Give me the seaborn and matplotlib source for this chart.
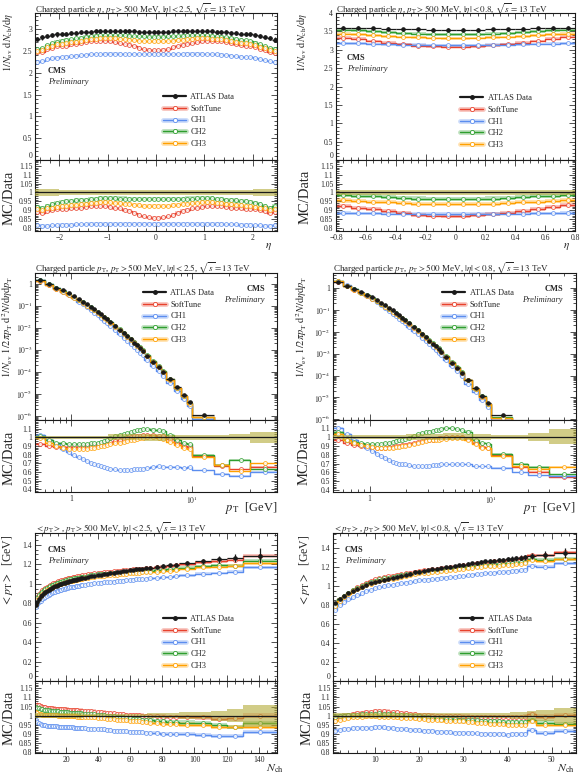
import numpy as np
import matplotlib
matplotlib.use("Agg")
import matplotlib.pyplot as plt
import seaborn as sns
from matplotlib.lines import Line2D
from matplotlib.ticker import FixedLocator, MultipleLocator, FuncFormatter, NullFormatter, LogLocator

sns.set_theme(style="ticks")
plt.rcParams['font.family'] = ['Liberation Serif', 'DejaVu Serif']
plt.rcParams['mathtext.fontset'] = 'stix'

W, H = 580, 776

tunes = ["SoftTune", "CH1", "CH2", "CH3"]
colors = {"SoftTune": "#e8412c", "CH1": "#5b8def", "CH2": "#2e9e2e", "CH3": "#ffa000"}
legend_labels = ["ATLAS Data", "SoftTune", "CH1", "CH2", "CH3"]

# ---------------- eta, |eta| < 2.5 ----------------
eta25_edges = np.linspace(-2.5, 2.5, 51)
eta25_data = [2.77, 2.81, 2.84, 2.86, 2.88, 2.89, 2.9, 2.91, 2.92, 2.93,
              2.94, 2.945, 2.95, 2.955, 2.96, 2.96, 2.96, 2.96, 2.955, 2.955,
              2.95, 2.945, 2.945, 2.94, 2.94,
              2.94, 2.94, 2.945, 2.95, 2.95, 2.955, 2.96, 2.96, 2.96, 2.96,
              2.955, 2.95, 2.945, 2.94, 2.93, 2.92, 2.91, 2.9, 2.89, 2.88,
              2.86, 2.84, 2.82, 2.8, 2.76]
eta25_soft = [0.89, 0.885, 0.895, 0.9, 0.905, 0.905, 0.905, 0.91, 0.91, 0.915,
              0.92, 0.925, 0.925, 0.925, 0.925, 0.92, 0.915, 0.91, 0.9, 0.895,
              0.885, 0.875, 0.865, 0.86, 0.855,
              0.855, 0.86, 0.865, 0.875, 0.885, 0.895, 0.9, 0.91, 0.915, 0.92,
              0.925, 0.925, 0.925, 0.925, 0.92, 0.915, 0.91, 0.91, 0.905, 0.905,
              0.905, 0.9, 0.895, 0.885, 0.89]
eta25_ch1 = [0.815, 0.81, 0.812, 0.815, 0.815, 0.817, 0.818, 0.818, 0.82, 0.82,
             0.82, 0.822, 0.822, 0.822, 0.823, 0.823, 0.823, 0.824, 0.824, 0.824,
             0.825, 0.825, 0.825, 0.825, 0.825,
             0.825, 0.825, 0.825, 0.825, 0.825, 0.824, 0.824, 0.824, 0.823, 0.823,
             0.823, 0.822, 0.822, 0.822, 0.82, 0.82, 0.82, 0.818, 0.818, 0.817,
             0.815, 0.815, 0.812, 0.81, 0.815]
eta25_ch2 = [0.92, 0.915, 0.925, 0.935, 0.94, 0.945, 0.95, 0.952, 0.955, 0.958,
             0.96, 0.962, 0.965, 0.967, 0.968, 0.968, 0.968, 0.966, 0.966, 0.965,
             0.963, 0.962, 0.962, 0.963, 0.963,
             0.963, 0.963, 0.962, 0.962, 0.963, 0.965, 0.966, 0.966, 0.968, 0.968,
             0.968, 0.967, 0.965, 0.962, 0.96, 0.958, 0.955, 0.952, 0.95, 0.945,
             0.94, 0.935, 0.925, 0.915, 0.925]
eta25_ch3 = [0.905, 0.9, 0.91, 0.915, 0.92, 0.922, 0.925, 0.928, 0.93, 0.933,
             0.936, 0.94, 0.942, 0.944, 0.945, 0.944, 0.942, 0.94, 0.936, 0.933,
             0.93, 0.928, 0.926, 0.925, 0.925,
             0.925, 0.925, 0.926, 0.928, 0.93, 0.933, 0.936, 0.94, 0.942, 0.944,
             0.945, 0.944, 0.942, 0.94, 0.936, 0.933, 0.93, 0.928, 0.925, 0.922,
             0.92, 0.915, 0.91, 0.9, 0.905]
eta25_err = [0.018] * 5 + [0.015] * 40 + [0.018] * 5

# ---------------- eta, |eta| < 0.8 ----------------
eta08_edges = np.linspace(-0.8, 0.8, 17)
eta08_data = [3.6, 3.6, 3.58, 3.57, 3.56, 3.56, 3.55, 3.55,
              3.55, 3.55, 3.56, 3.56, 3.57, 3.58, 3.59, 3.6]
eta08_soft = [0.925, 0.915, 0.905, 0.895, 0.885, 0.875, 0.87, 0.868,
              0.868, 0.872, 0.878, 0.885, 0.895, 0.905, 0.918, 0.93]
eta08_ch1 = [0.883, 0.882, 0.882, 0.881, 0.881, 0.88, 0.88, 0.88,
             0.88, 0.88, 0.88, 0.881, 0.881, 0.882, 0.882, 0.883]
eta08_ch2 = [0.985, 0.982, 0.978, 0.974, 0.97, 0.966, 0.965, 0.964,
             0.964, 0.965, 0.966, 0.97, 0.974, 0.978, 0.982, 0.985]
eta08_ch3 = [0.955, 0.952, 0.948, 0.944, 0.94, 0.937, 0.935, 0.934,
             0.934, 0.935, 0.937, 0.94, 0.944, 0.948, 0.952, 0.955]
eta08_err = [0.012] * 16

# ---------------- pT spectra ----------------
pt_edges = [0.5, 0.6, 0.7, 0.8, 0.9, 1.0, 1.1, 1.2, 1.3, 1.4, 1.5, 1.6, 1.7, 1.8, 1.9, 2.0,
            2.2, 2.4, 2.6, 2.8, 3.0, 3.2, 3.4, 3.6, 3.8, 4.0,
            4.5, 5.0, 5.5, 6.0, 7.0, 8.0, 9.0, 10.0, 15.0, 20.0, 30.0, 50.0]
pt25_data = [1.4, 0.95, 0.67, 0.49, 0.36, 0.27, 0.2, 0.152, 0.116, 0.089,
             0.069, 0.053, 0.041, 0.032, 0.025,
             0.018, 0.012, 0.0082, 0.0057, 0.004, 0.0029, 0.0021, 0.00155, 0.00115, 0.00086,
             5.2e-4, 2.8e-4, 1.6e-4, 9.5e-5, 4.5e-5, 1.9e-5, 8.5e-6, 4e-6,
             1.1e-6, 2e-7, 5e-8, 8e-9]
pt25_soft = [0.92, 0.9, 0.89, 0.89, 0.89, 0.89, 0.89, 0.89, 0.9, 0.9,
             0.91, 0.91, 0.92, 0.93, 0.94,
             0.95, 0.96, 0.97, 0.98, 0.99, 1.0, 1.01, 1.02, 1.02, 1.03,
             1.03, 1.03, 1.02, 1.01, 0.98, 0.94, 0.9, 0.89,
             0.78, 0.67, 0.63, 0.66]
pt25_ch1 = [1.03, 0.97, 0.92, 0.87, 0.83, 0.8, 0.77, 0.75, 0.73, 0.71,
            0.69, 0.68, 0.67, 0.66, 0.65,
            0.64, 0.63, 0.62, 0.62, 0.62, 0.62, 0.63, 0.63, 0.64, 0.64,
            0.65, 0.66, 0.67, 0.66, 0.66, 0.66, 0.65, 0.66,
            0.62, 0.58, 0.56, 0.6]
pt25_ch2 = [1.02, 0.97, 0.94, 0.93, 0.92, 0.92, 0.92, 0.92, 0.92, 0.93,
            0.93, 0.94, 0.95, 0.96, 0.97,
            0.99, 1.01, 1.03, 1.04, 1.05, 1.06, 1.07, 1.08, 1.09, 1.1,
            1.1, 1.09, 1.08, 1.07, 1.03, 0.97, 0.93, 0.92,
            0.8, 0.68, 0.74, 0.63]
pt25_ch3 = [0.99, 0.93, 0.9, 0.88, 0.87, 0.87, 0.87, 0.87, 0.87, 0.88,
            0.88, 0.89, 0.9, 0.9, 0.91,
            0.92, 0.93, 0.94, 0.95, 0.96, 0.97, 0.97, 0.98, 0.99, 0.99,
            1.0, 1.0, 0.99, 0.98, 0.95, 0.91, 0.88, 0.87,
            0.77, 0.68, 0.61, 0.7]
pt25_err = [0.02] * 15 + [0.035] * 10 + [0.04] * 4 + [0.03] * 4 + [0.025, 0.03, 0.035, 0.065]

pt08_data = [1.95, 1.3, 0.92, 0.67, 0.5, 0.37, 0.28, 0.21, 0.16, 0.123,
             0.095, 0.074, 0.057, 0.045, 0.035,
             0.025, 0.0168, 0.0115, 0.008, 0.0056, 0.004, 0.0029, 0.00215, 0.0016, 0.0012,
             7.3e-4, 3.9e-4, 2.2e-4, 1.3e-4, 6.2e-5, 2.6e-5, 1.2e-5, 5.6e-6,
             1.5e-6, 2.8e-7, 7e-8, 1.1e-8]
pt08_soft = [0.96, 0.93, 0.91, 0.9, 0.89, 0.89, 0.88, 0.88, 0.88, 0.89,
             0.89, 0.9, 0.9, 0.91, 0.91,
             0.92, 0.93, 0.94, 0.95, 0.96, 0.97, 0.97, 0.98, 0.99, 0.99,
             1.0, 1.0, 1.0, 1.0, 0.98, 0.93, 0.89, 0.88,
             0.8, 0.66, 0.61, 0.55]
pt08_ch1 = [1.1, 1.03, 0.96, 0.91, 0.87, 0.84, 0.81, 0.78, 0.76, 0.74,
            0.72, 0.71, 0.7, 0.69, 0.69,
            0.68, 0.67, 0.67, 0.67, 0.67, 0.67, 0.68, 0.68, 0.68, 0.69,
            0.69, 0.69, 0.7, 0.7, 0.69, 0.67, 0.67, 0.67,
            0.65, 0.6, 0.57, 0.56]
pt08_ch2 = [1.05, 0.97, 0.94, 0.93, 0.92, 0.92, 0.92, 0.92, 0.93, 0.93,
            0.94, 0.95, 0.96, 0.97, 0.98,
            0.99, 1.01, 1.03, 1.04, 1.05, 1.06, 1.07, 1.08, 1.08, 1.09,
            1.1, 1.1, 1.09, 1.08, 1.06, 0.97, 0.93, 0.92,
            0.81, 0.7, 0.66, 0.58]
pt08_ch3 = [1.03, 0.97, 0.93, 0.91, 0.9, 0.89, 0.88, 0.88, 0.88, 0.88,
            0.88, 0.89, 0.89, 0.9, 0.9,
            0.91, 0.92, 0.93, 0.94, 0.95, 0.96, 0.96, 0.97, 0.97, 0.98,
            0.98, 0.99, 0.99, 0.99, 0.97, 0.92, 0.88, 0.87,
            0.79, 0.67, 0.64, 0.66]
pt08_err = [0.02] * 15 + [0.035] * 10 + [0.04] * 4 + [0.03] * 4 + [0.02, 0.025, 0.045, 0.085]

# ---------------- <pT> vs Nch, |eta| < 2.5 ----------------
nch25_edges = np.concatenate([np.arange(0.5, 31.0, 1.0), np.arange(32.5, 71.0, 2.0),
                              [74.5, 78.5, 82.5, 86.5, 90.5, 100.5, 110.5, 120.5, 130.5, 151.5]])
nch25_data = [0.78, 0.815, 0.845, 0.868, 0.887, 0.902, 0.915, 0.927, 0.938, 0.948,
              0.957, 0.965, 0.973, 0.98, 0.987, 0.993, 0.999, 1.005, 1.011, 1.016,
              1.021, 1.026, 1.03, 1.034, 1.038, 1.042, 1.046, 1.05, 1.053, 1.057,
              1.061, 1.068, 1.075, 1.082, 1.088, 1.093, 1.098, 1.103, 1.108, 1.113,
              1.118, 1.123, 1.128, 1.133, 1.138, 1.142, 1.146, 1.15, 1.154, 1.158,
              1.164, 1.172, 1.18, 1.188, 1.196,
              1.21, 1.23, 1.25, 1.265, 1.285]
nch25_soft = [1.055, 1.06, 1.058, 1.055, 1.05, 1.047, 1.045, 1.043, 1.042, 1.041,
              1.04, 1.039, 1.038, 1.037, 1.036, 1.036, 1.035, 1.034, 1.034, 1.033,
              1.033, 1.032, 1.031, 1.031, 1.03, 1.029, 1.029, 1.028, 1.027, 1.027,
              1.026, 1.025, 1.024, 1.022, 1.02, 1.019, 1.017, 1.015, 1.013, 1.012,
              1.01, 1.008, 1.007, 1.005, 1.004, 1.003, 1.002, 1.001, 1.0, 0.999,
              0.998, 0.997, 0.995, 0.994, 0.993,
              0.991, 0.99, 0.982, 0.985, 1.0]
nch25_ch1 = [0.975, 0.965, 0.957, 0.952, 0.949, 0.947, 0.946, 0.945, 0.944, 0.943,
             0.942, 0.942, 0.941, 0.941, 0.94, 0.94, 0.939, 0.939, 0.938, 0.938,
             0.937, 0.936, 0.936, 0.935, 0.934, 0.934, 0.933, 0.932, 0.932, 0.931,
             0.93, 0.929, 0.928, 0.927, 0.926, 0.925, 0.924, 0.922, 0.92, 0.918,
             0.917, 0.915, 0.914, 0.913, 0.912, 0.911, 0.91, 0.909, 0.908, 0.907,
             0.905, 0.903, 0.901, 0.9, 0.899,
             0.897, 0.896, 0.887, 0.887, 0.91]
nch25_ch2 = [1.045, 1.042, 1.04, 1.037, 1.035, 1.033, 1.031, 1.03, 1.029, 1.028,
             1.027, 1.026, 1.025, 1.024, 1.023, 1.022, 1.021, 1.02, 1.02, 1.019,
             1.018, 1.017, 1.016, 1.016, 1.015, 1.014, 1.013, 1.012, 1.012, 1.011,
             1.01, 1.009, 1.008, 1.007, 1.006, 1.004, 1.002, 1.0, 0.998, 0.996,
             0.994, 0.992, 0.99, 0.988, 0.986, 0.984, 0.982, 0.98, 0.978, 0.976,
             0.974, 0.971, 0.968, 0.966, 0.964,
             0.962, 0.959, 0.95, 0.936, 0.96]
nch25_ch3 = [1.02, 1.015, 1.01, 1.007, 1.005, 1.004, 1.003, 1.003, 1.002, 1.002,
             1.002, 1.001, 1.001, 1.001, 1.0, 1.0, 1.0, 1.0, 0.999, 0.999,
             0.998, 0.998, 0.997, 0.997, 0.996, 0.996, 0.995, 0.995, 0.994, 0.994,
             0.993, 0.992, 0.991, 0.99, 0.989, 0.988, 0.986, 0.984, 0.982, 0.98,
             0.978, 0.977, 0.975, 0.974, 0.972, 0.971, 0.97, 0.968, 0.966, 0.964,
             0.962, 0.959, 0.956, 0.954, 0.953,
             0.951, 0.95, 0.94, 0.936, 0.94]
nch25_err = [0.012] * 30 + [0.01] * 20 + [0.015] * 5 + [0.018, 0.02, 0.028, 0.035, 0.06]

# ---------------- <pT> vs Nch, |eta| < 0.8 ----------------
nch08_edges = np.concatenate([np.arange(0.5, 45.0, 1.0), [46.5, 50.5, 55.5]])
nch08_data = [0.82, 0.865, 0.9, 0.928, 0.952, 0.974, 0.994, 1.012, 1.03, 1.046,
              1.058, 1.069, 1.08, 1.09, 1.1, 1.111, 1.122, 1.133, 1.144, 1.154,
              1.162, 1.169, 1.176, 1.183, 1.19, 1.197, 1.204, 1.211, 1.218, 1.225,
              1.232, 1.239, 1.246, 1.253, 1.26, 1.265, 1.27, 1.275, 1.28, 1.285,
              1.29, 1.295, 1.3, 1.305, 1.315, 1.33, 1.35]
nch08_soft = [0.99, 0.995, 1.0, 1.004, 1.008, 1.012, 1.015, 1.018, 1.021, 1.024,
              1.025, 1.024, 1.022, 1.02, 1.018, 1.015, 1.012, 1.009, 1.007, 1.005,
              1.003, 1.001, 1.0, 0.999, 0.998, 0.997, 0.997, 0.996, 0.996, 0.995,
              0.995, 0.994, 0.994, 0.993, 0.993, 0.992, 0.992, 0.992, 0.991, 0.992,
              0.992, 0.993, 0.994, 0.995, 1.007, 0.995, 1.004]
nch08_ch1 = [0.918, 0.922, 0.925, 0.928, 0.93, 0.931, 0.932, 0.933, 0.934, 0.935,
             0.936, 0.935, 0.933, 0.931, 0.929, 0.927, 0.925, 0.923, 0.921, 0.919,
             0.917, 0.915, 0.914, 0.912, 0.911, 0.91, 0.909, 0.907, 0.906, 0.905,
             0.904, 0.903, 0.902, 0.901, 0.9, 0.899, 0.898, 0.897, 0.897, 0.896,
             0.897, 0.898, 0.899, 0.9, 0.923, 0.905, 0.918]
nch08_ch2 = [0.995, 0.998, 1.0, 1.002, 1.004, 1.006, 1.007, 1.009, 1.01, 1.011,
             1.012, 1.011, 1.01, 1.008, 1.006, 1.004, 1.002, 1.0, 0.998, 0.996,
             0.993, 0.99, 0.988, 0.986, 0.984, 0.983, 0.981, 0.98, 0.978, 0.977,
             0.976, 0.975, 0.974, 0.972, 0.971, 0.97, 0.969, 0.968, 0.967, 0.966,
             0.966, 0.965, 0.964, 0.964, 0.977, 0.962, 0.954]
nch08_ch3 = [0.97, 0.978, 0.984, 0.988, 0.991, 0.993, 0.995, 0.996, 0.996, 0.996,
             0.995, 0.994, 0.993, 0.991, 0.99, 0.989, 0.988, 0.986, 0.985, 0.983,
             0.981, 0.978, 0.976, 0.975, 0.974, 0.973, 0.971, 0.97, 0.969, 0.968,
             0.966, 0.964, 0.962, 0.96, 0.958, 0.956, 0.954, 0.953, 0.952, 0.951,
             0.951, 0.95, 0.95, 0.95, 0.968, 0.95, 0.95]
nch08_err = [0.012] * 30 + [0.015] * 10 + [0.02] * 4 + [0.025, 0.03, 0.04]

fmt = FuncFormatter(lambda v, p: f"{v:g}".replace("-", "\u2212"))


def rect(l, r, t, b):
    return [l / W, 1 - b / H, (r - l) / W, (b - t) / H]


def ftxt(x, y, s, **kw):
    fig.text(x / W, 1 - y / H, s, **kw)


def style(ax):
    ax.tick_params(which='both', direction='in', top=True, right=True,
                   labelsize=5.5, pad=2, width=0.6, color='0.2')
    ax.tick_params(which='major', length=4.5)
    ax.tick_params(which='minor', length=2.2)
    for s in ax.spines.values():
        s.set_linewidth(0.8)
        s.set_color('0.1')


def draw_panel(box, edges, data, ratios, err, legend_xy, logx=False, logy=False):
    l, r, t, m, b = box
    ax = fig.add_axes(rect(l, r, t, m))
    rx = fig.add_axes(rect(l, r, m, b), sharex=ax)
    if logx:
        ax.set_xscale('log')
    if logy:
        ax.set_yscale('log')
    edges = np.asarray(edges, float)
    centers = 0.5 * (edges[:-1] + edges[1:])
    half = 0.5 * np.diff(edges)
    data = np.asarray(data, float)
    err = np.asarray(err, float)
    for name, ratio in zip(tunes, ratios):
        ratio = np.asarray(ratio, float)
        c = colors[name]
        for a, vals in ((ax, data * ratio), (rx, ratio)):
            sy = np.append(vals, vals[-1])
            a.fill_between(edges, sy * 0.988, sy * 1.012, step='post', color=c,
                           alpha=0.3, lw=0, zorder=2)
            sns.lineplot(x=edges, y=sy, ax=a, color=c, lw=1.0, drawstyle='steps-post',
                         estimator=None, sort=False, zorder=2.2)
            sns.scatterplot(x=centers, y=vals, ax=a, color=c, facecolor='white',
                            edgecolor=c, s=8, linewidth=0.6, alpha=0.85, zorder=2.4)
    ax.errorbar(centers, data, xerr=half, yerr=data * err, fmt='o', ms=2.3, color='k',
                elinewidth=0.9, capsize=0, zorder=5)
    se = np.append(err, err[-1])
    rx.fill_between(edges, 1 - se, 1 + se, step='post', color='#b3ab38', alpha=0.6,
                    lw=0, zorder=3)
    rx.axhline(1, color='k', lw=0.9, zorder=4)
    rx.set_xlim(edges[0], edges[-1])
    for a in (ax, rx):
        style(a)
        a.set_xlabel("")
        a.set_ylabel("")
    ax.tick_params(labelbottom=False)

    handles = [Line2D([], [], color='k', marker='o', ms=2.5, lw=1.6)]
    for name in tunes:
        c = colors[name]
        handles.append((Line2D([], [], color=c, lw=3.5, alpha=0.3),
                        Line2D([], [], color=c, lw=1.0, marker='o', ms=3, mfc='white',
                               mec=c, mew=0.6)))
    ax.legend(handles, legend_labels, loc='upper left',
              bbox_to_anchor=(legend_xy[0] / W, 1 - legend_xy[1] / H),
              bbox_transform=fig.transFigure, frameon=False, fontsize=6,
              handlelength=2.8, handletextpad=0.5, labelspacing=0.45,
              borderpad=0, borderaxespad=0)
    return ax, rx


def lin_ticks(ax, rx, xmaj, xmin, ymaj, ymin, ylim, rlim, rticks, rmin):
    rx.xaxis.set_major_locator(MultipleLocator(xmaj))
    rx.xaxis.set_minor_locator(MultipleLocator(xmin))
    rx.xaxis.set_major_formatter(fmt)
    ax.set_ylim(*ylim)
    ax.yaxis.set_major_locator(MultipleLocator(ymaj))
    ax.yaxis.set_minor_locator(MultipleLocator(ymin))
    ax.yaxis.set_major_formatter(fmt)
    ratio_ticks(rx, rlim, rticks, rmin)


def ratio_ticks(rx, rlim, rticks, rmin):
    rx.set_ylim(*rlim)
    rx.yaxis.set_major_locator(FixedLocator(rticks))
    rx.yaxis.set_minor_locator(MultipleLocator(rmin))
    rx.yaxis.set_major_formatter(fmt)


def log_ticks(ax, rx, ylim):
    ax.set_ylim(*ylim)
    ax.yaxis.set_major_locator(FixedLocator([1e-6, 1e-5, 1e-4, 1e-3, 1e-2, 1e-1, 1]))
    ax.yaxis.set_major_formatter(FuncFormatter(
        lambda v, p: "1" if abs(v - 1) < 1e-9 else f"$10^{{{int(round(np.log10(v)))}}}$"))
    ax.yaxis.set_minor_locator(LogLocator(base=10, subs=np.arange(2, 10)))
    ax.yaxis.set_minor_formatter(NullFormatter())
    rx.xaxis.set_major_locator(FixedLocator([1, 10]))
    rx.xaxis.set_major_formatter(FuncFormatter(lambda v, p: "1" if v < 5 else "$10^1$"))
    rx.xaxis.set_minor_locator(LogLocator(base=10, subs=np.arange(2, 10)))
    rx.xaxis.set_minor_formatter(NullFormatter())


fig = plt.figure(figsize=(W / 100, H / 100), dpi=100)

fine_ticks = [0.8, 0.85, 0.9, 0.95, 1.0, 1.05, 1.1, 1.15]
wide_ticks = [0.4, 0.5, 0.6, 0.7, 0.8, 0.9, 1.0, 1.1]

# row 1: eta
ax1, rx1 = draw_panel((35, 277, 13, 160, 231), eta25_edges, eta25_data,
                      [eta25_soft, eta25_ch1, eta25_ch2, eta25_ch3], eta25_err, (163, 93))
lin_ticks(ax1, rx1, 1, 0.2, 0.5, 0.1, (0, 3.37), (0.783, 1.183), fine_ticks, 0.01)
ax2, rx2 = draw_panel((336, 575, 13, 160, 231), eta08_edges, eta08_data,
                      [eta08_soft, eta08_ch1, eta08_ch2, eta08_ch3], eta08_err, (460, 94))
lin_ticks(ax2, rx2, 0.2, 0.05, 0.5, 0.1, (0, 4.0), (0.783, 1.183), fine_ticks, 0.01)

# row 2: pT
ax3, rx3 = draw_panel((35, 277, 273, 420, 492), pt_edges, pt25_data,
                      [pt25_soft, pt25_ch1, pt25_ch2, pt25_ch3], pt25_err, (143, 289),
                      logx=True, logy=True)
log_ticks(ax3, rx3, (10 ** -6.2, 10 ** 0.486))
ratio_ticks(rx3, (0.37, 1.2), wide_ticks, 0.02)
ax4, rx4 = draw_panel((333, 576, 273, 420, 492), pt_edges, pt08_data,
                      [pt08_soft, pt08_ch1, pt08_ch2, pt08_ch3], pt08_err, (442, 289),
                      logx=True, logy=True)
log_ticks(ax4, rx4, (10 ** -6.03, 10 ** 0.687))
ratio_ticks(rx4, (0.38, 1.19), wide_ticks, 0.02)

# row 3: <pT> vs Nch
ax5, rx5 = draw_panel((35, 277, 533, 681, 753), nch25_edges, nch25_data,
                      [nch25_soft, nch25_ch1, nch25_ch2, nch25_ch3], nch25_err, (163, 615))
lin_ticks(ax5, rx5, 20, 5, 0.2, 0.05, (0, 1.52), (0.795, 1.19), fine_ticks, 0.01)
ax6, rx6 = draw_panel((333, 576, 533, 681, 753), nch08_edges, nch08_data,
                      [nch08_soft, nch08_ch1, nch08_ch2, nch08_ch3], nch08_err, (460, 615))
lin_ticks(ax6, rx6, 10, 2, 0.2, 0.05, (0, 1.56), (0.795, 1.19), fine_ticks, 0.01)

# titles
t_eta = r"Charged particle $\eta$, $p_{\rm T} > 500$ MeV, $|\eta| < %s$, $\sqrt{s} = 13$ TeV"
t_pt = r"Charged particle $p_{\rm T}$, $p_{\rm T} > 500$ MeV, $|\eta| < %s$, $\sqrt{s} = 13$ TeV"
t_mpt = r"$< p_{\rm T} >$, $p_{\rm T} > 500$ MeV, $|\eta| < %s$, $\sqrt{s} = 13$ TeV"
for (x, y, s) in [(35, 1.5, t_eta % "2.5"), (336, 1.5, t_eta % "0.8"),
                  (35, 261, t_pt % "2.5"), (333, 261, t_pt % "0.8"),
                  (35, 521, t_mpt % "2.5"), (333, 521, t_mpt % "0.8")]:
    ftxt(x, y, s, fontsize=6.5, ha='left', va='top')

# y labels
yl_eta = r"$1/N_{\rm ev}\ {\rm d}N_{\rm ch}/{\rm d}\eta$"
yl_pt = r"$1/N_{\rm ev}\ 1/2\pi p_{\rm T}\ {\rm d}^2N/{\rm d}\eta {\rm d}p_{\rm T}$"
yl_mpt = r"$< p_{\rm T} >$  [GeV]"
for (x, y, s, fs) in [(8, 13, yl_eta, 7.5), (302, 13, yl_eta, 7.5),
                      (8, 276, yl_pt, 7.5), (302, 276, yl_pt, 7.5),
                      (8, 535, yl_mpt, 8.5), (305, 535, yl_mpt, 8.5)]:
    ftxt(x, y, s, fontsize=fs, rotation=90, ha='center', va='top')
for (x, y) in [(9, 198), (305, 197), (9, 458), (304, 458), (9, 718), (307, 718)]:
    ftxt(x, y, "MC/Data", fontsize=10.5, rotation=90, ha='center', va='center')

# x labels
for (x, y, s, fs, va) in [(272, 247, r"$\eta$", 8, 'center'), (570, 247, r"$\eta$", 8, 'center'),
                          (277, 508, r"$p_{\rm T}$  [GeV]", 9, 'center'),
                          (575, 508, r"$p_{\rm T}$  [GeV]", 9, 'center'),
                          (284, 775, r"$N_{\rm ch}$", 8.5, 'bottom'),
                          (575, 775, r"$N_{\rm ch}$", 8.5, 'bottom')]:
    ftxt(x, y, s, fontsize=fs, ha='right', va=va)

# CMS Preliminary
for (x, y, ha) in [(48, 71, 'left'), (347, 58, 'left'), (265, 289, 'right'),
                   (563, 289, 'right'), (48, 550, 'left'), (345, 550, 'left')]:
    ftxt(x, y, "CMS", fontsize=6, fontweight='bold', ha=ha, va='center')
    ftxt(x, y + 11, "Preliminary", fontsize=6, fontstyle='italic', ha=ha, va='center')

# lift the main-panel "0" labels clear of the ratio-panel top labels
fig.canvas.draw()
for a in (ax1, ax2, ax5, ax6):
    for lab in a.get_yticklabels():
        if lab.get_text() == "0":
            lab.set_verticalalignment('bottom')

fig.savefig("out.png", dpi=100)
